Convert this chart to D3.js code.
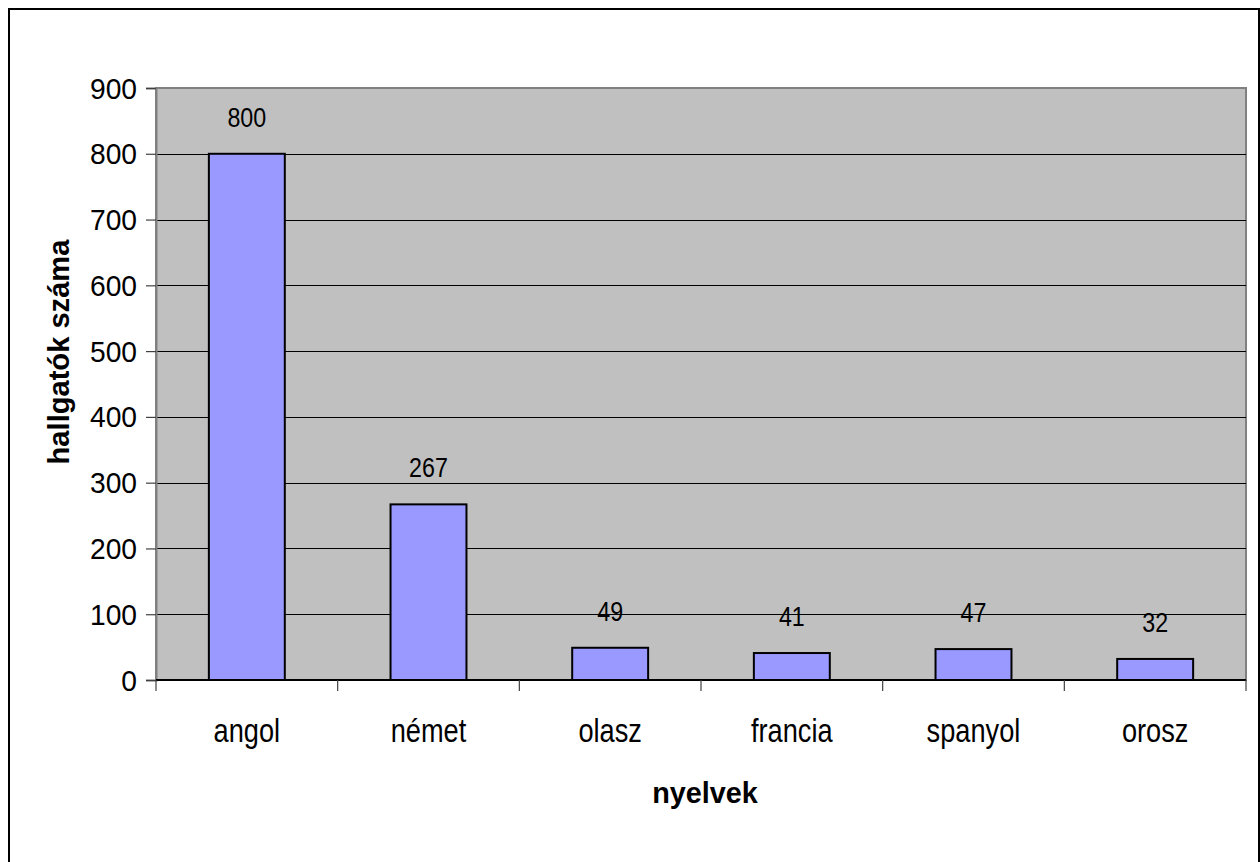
<!DOCTYPE html>
<html>
<head>
<meta charset="utf-8">
<script src="https://cdn.jsdelivr.net/npm/d3@7"></script>
<style>
  html, body { margin: 0; padding: 0; background: #fff; }
  svg { display: block; font-family: Arial, "Liberation Sans", sans-serif; }
</style>
</head>
<body>
<svg id="chart" width="1260" height="862"></svg>
<script>
const categories = ["angol", "német", "olasz", "francia", "spanyol", "orosz"];
const values = [800, 267, 49, 41, 47, 32];
const yTicks = [0, 100, 200, 300, 400, 500, 600, 700, 800, 900];
const yTitle = "hallgatók száma";
const xTitle = "nyelvek";

const svg = d3.select("#chart");
const plot = { left: 156, right: 1246, top: 88, bottom: 680 };

function squeeze(sel, f) {
  sel.each(function () {
    const len = this.getComputedTextLength();
    d3.select(this).attr("textLength", len * f).attr("lengthAdjust", "spacingAndGlyphs");
  });
}

// outer border
svg.append("rect").attr("x", 9).attr("y", 9).attr("width", 1250).attr("height", 862)
  .attr("fill", "#fff").attr("stroke", "#000").attr("stroke-width", 2);

const x = d3.scaleBand().domain(categories).range([plot.left, plot.right])
  .paddingInner(0.582).paddingOuter(0.291);
const xStep = d3.scaleBand().domain(categories).range([plot.left, plot.right]).padding(0);
const y = d3.scaleLinear().domain([0, 900]).range([plot.bottom, plot.top]);

// plot area
svg.append("rect").attr("x", plot.left).attr("y", plot.top)
  .attr("width", plot.right - plot.left).attr("height", plot.bottom - plot.top)
  .attr("fill", "#C0C0C0").attr("stroke", "#808080").attr("stroke-width", 2);

// gridlines
svg.append("g").selectAll("line").data(yTicks.filter(d => d > 0 && d < 900)).join("line")
  .attr("x1", plot.left).attr("x2", plot.right)
  .attr("y1", d => Math.round(y(d)) + 0.5).attr("y2", d => Math.round(y(d)) + 0.5)
  .attr("stroke", "#000").attr("stroke-width", 1);

// y axis
const yAxis = svg.append("g").attr("transform", `translate(${plot.left},0)`)
  .call(d3.axisLeft(y).tickValues(yTicks).tickSize(10).tickPadding(8).tickFormat(d3.format("d")));
yAxis.select(".domain").attr("stroke", "#808080").attr("stroke-width", 2);
yAxis.selectAll(".tick line").attr("stroke", "#404040").attr("stroke-width", 1.2);
yAxis.selectAll(".tick text").attr("font-size", 30).attr("fill", "#000")
  .attr("font-family", "Arial, 'Liberation Sans', sans-serif")
  .attr("dy", null).attr("y", 10).attr("x", -19).call(squeeze, 0.94);

// bars
svg.append("g").selectAll("rect").data(values).join("rect")
  .attr("x", (d, i) => x(categories[i]))
  .attr("y", d => y(d))
  .attr("width", x.bandwidth())
  .attr("height", d => y(0) - y(d))
  .attr("fill", "#9999FF").attr("stroke", "#000").attr("stroke-width", 2);

// x axis
const xAxis = svg.append("g").attr("transform", `translate(0,${plot.bottom})`);
xAxis.append("line").attr("x1", plot.left).attr("x2", plot.right).attr("y1", 0).attr("y2", 0)
  .attr("stroke", "#000").attr("stroke-width", 2);
const bounds = categories.map(c => xStep(c)).concat([plot.right]);
xAxis.selectAll("line.tk").data(bounds).join("line").attr("class", "tk")
  .attr("x1", d => d).attr("x2", d => d).attr("y1", 0).attr("y2", 11)
  .attr("stroke", "#404040").attr("stroke-width", 1.2);
xAxis.selectAll("text").data(categories).join("text")
  .attr("x", d => x(d) + x.bandwidth() / 2).attr("y", 62)
  .attr("text-anchor", "middle").attr("font-size", 34).attr("fill", "#000")
  .text(d => d).call(squeeze, 0.8);

// data labels
svg.append("g").selectAll("text").data(values).join("text")
  .attr("x", (d, i) => x(categories[i]) + x.bandwidth() / 2)
  .attr("y", d => y(d) - 27)
  .attr("text-anchor", "middle").attr("font-size", 28).attr("fill", "#000")
  .text(d => d).call(squeeze, 0.83);

// titles
svg.append("text").attr("x", 705).attr("y", 803).attr("text-anchor", "middle")
  .attr("font-size", 30).attr("font-weight", "bold").text(xTitle).call(squeeze, 0.96);
svg.append("text").attr("transform", "translate(69,352) rotate(-90)").attr("text-anchor", "middle")
  .attr("font-size", 30).attr("font-weight", "bold").text(yTitle).call(squeeze, 0.97);
</script>
</body>
</html>
